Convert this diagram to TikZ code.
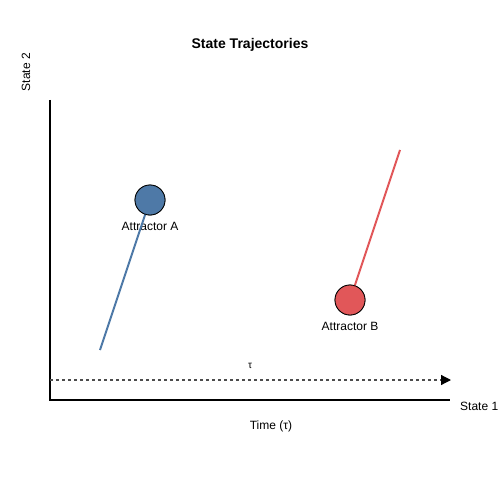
\documentclass[tikz,border=0pt]{standalone}
\usepackage{fontspec}
\setmainfont{Liberation Sans}
\usetikzlibrary{arrows.meta}
\definecolor{cA}{HTML}{4E79A7}
\definecolor{cB}{HTML}{E15759}
\tikzset{
  lbl/.style={font=\fontsize{12}{14}\selectfont, inner sep=0pt},
  axis/.style={line width=2pt, black},
  attr/.style={circle, draw=black, line width=0.8pt, minimum size=30pt, inner sep=0pt},
  traj/.style={line width=2pt},
}
\begin{document}
\begin{tikzpicture}[x=1pt,y=-1pt]
\useasboundingbox (0,0) rectangle (500,500);
\node[font=\bfseries\fontsize{14}{16}\selectfont, inner sep=0pt] (title) at (250,45) {State Trajectories};
\coordinate (o) at (50,400);
\coordinate (ytop) at (50,100);
\coordinate (xend) at (450,400);
\draw[axis] (ytop) -- (o) -- (xend);
\node[lbl, rotate=90] (s2) at (26,72) {State 2};
\node[lbl, anchor=west] (s1) at (460,406) {State 1};
\node[lbl] (time) at (271,426) {Time (τ)};
\coordinate (ds) at (50,380);
\coordinate (de) at (451,380);
\draw[line width=1.2pt, black!70, dash pattern=on 3pt off 3pt, -{Triangle[length=10pt,width=10pt,color=black,fill=black]}] (ds) -- (de);
\node[font=\fontsize{10}{12}\selectfont, inner sep=0pt] (tau) at (250,366) {τ};
% trajectories
\coordinate (a0) at (100,350);
\coordinate (b0) at (400,150);
\node[attr, fill=cA] (A) at (150,200) {};
\node[attr, fill=cB] (B) at (350,300) {};
\node[lbl] (la) at (150,226) {Attractor A};
\node[lbl] (lb) at (350,326) {Attractor B};
\draw[traj, cA] (a0) -- (A.center);
\draw[traj, cB] (b0) -- (B.center);
\node[attr, fill=cA] at (150,200) {};
\node[attr, fill=cB] at (350,300) {};
\end{tikzpicture}
\end{document}
